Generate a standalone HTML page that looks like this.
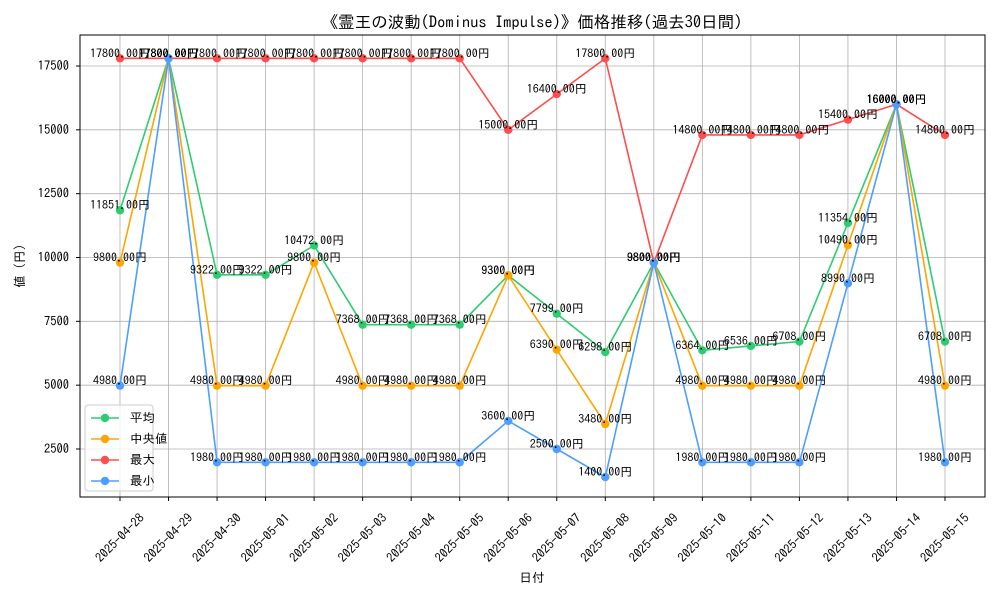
<!DOCTYPE html>
<html><head><meta charset="utf-8">
<style>
body{margin:0;background:#fff;}
svg text{font-family:"IPAGothic","Noto Sans CJK JP","Liberation Sans",sans-serif;}
</style></head>
<body>
<svg id="chart" width="1000" height="600" xmlns="http://www.w3.org/2000/svg">
<rect width="1000" height="600" fill="#fff"/>
<text x="532" y="28" font-size="16.5" text-anchor="middle">《霊王の波動(Dominus Impulse)》価格推移(過去30日間)</text>
<g id="grid"></g>
<rect x="80" y="35" width="905" height="462" fill="none" stroke="#000" stroke-width="1"/>
<g id="axes"></g>
<g id="series"></g>
<g id="labels"></g>
<text x="532" y="582" font-size="12.5" text-anchor="middle">日付</text>
<text x="24" y="266" font-size="12.5" text-anchor="middle" transform="rotate(-90 24 266)">値 (円)</text>
<g id="legend"></g>
</svg>
<script>
const dates=["2025-04-28","2025-04-29","2025-04-30","2025-05-01","2025-05-02","2025-05-03","2025-05-04","2025-05-05","2025-05-06","2025-05-07","2025-05-08","2025-05-09","2025-05-10","2025-05-11","2025-05-12","2025-05-13","2025-05-14","2025-05-15"];
const avgValues=[11851,17800,9322,9322,10472,7368,7368,7368,9300,7799,6298,9800,6364,6536,6708,11354,16000,6708];
const medianValues=[9800,17800,4980,4980,9800,4980,4980,4980,9300,6390,3480,9800,4980,4980,4980,10490,16000,4980];
const maxValues=[17800,17800,17800,17800,17800,17800,17800,17800,15000,16400,17800,9800,14800,14800,14800,15400,16000,14800];
const minValues=[4980,17800,1980,1980,1980,1980,1980,1980,3600,2500,1400,9800,1980,1980,1980,8990,16000,1980];
const yTicks=[2500,5000,7500,10000,12500,15000,17500];
const seriesNames=["平均","中央値","最大","最小"];

const NS="http://www.w3.org/2000/svg";
function mk(tag,attrs,parent){const e=document.createElementNS(NS,tag);for(const k in attrs)e.setAttribute(k,attrs[k]);parent.appendChild(e);return e;}
const X0=120,X1=945;
function xPos(i){return X0+(X1-X0)*i/(dates.length-1);}
function yPos(v){return 449-(v-2500)*(449-66)/15000;}
const grid=document.getElementById('grid'),axes=document.getElementById('axes');
dates.forEach((d,i)=>{
  const x=xPos(i);
  const g=mk('line',{x1:x,x2:x,y1:35,y2:497,stroke:'#b0b0b0','stroke-width':0.8},grid);
  
  
  mk('line',{x1:x,x2:x,y1:497,y2:501,stroke:'#000'},axes);
  const t=mk('text',{x:0,y:4,'font-size':12.5,'text-anchor':'middle',transform:`translate(${x},${538}) rotate(-45)`},axes);
  t.textContent=d;
  
  
});
yTicks.forEach(v=>{
  const y=yPos(v);
  const g=mk('line',{x1:80,x2:985,y1:y,y2:y,stroke:'#b0b0b0','stroke-width':0.8},grid);
  
  
  mk('line',{x1:76,x2:80,y1:y,y2:y,stroke:'#000'},axes);
  const t=mk('text',{x:69,y:y+4,'font-size':12.5,'text-anchor':'end'},axes);
  t.textContent=v;
  
  
});
const allSeries=[avgValues,medianValues,maxValues,minValues];
const colors=["#2ecc71","#ffa500","#ff4d4d","#4d9eff"];
const keys=["avg","median","max","min"];
const sg=document.getElementById('series'),lg=document.getElementById('labels');
allSeries.forEach((vals,s)=>{
  const pts=vals.map((v,i)=>xPos(i)+','+yPos(v)).join(' ');
  const pl=mk('polyline',{points:pts,fill:'none',stroke:colors[s],'stroke-width':1.6},sg);
  
  
  vals.forEach((v,i)=>{
    const c=mk('circle',{cx:xPos(i),cy:yPos(v),r:4.2,fill:colors[s]},sg);
    
    
    const t=mk('text',{x:xPos(i),y:yPos(v)-1,'font-size':12,'text-anchor':'middle'},lg);
    t.textContent=v.toFixed(2)+'円';
    
    
  });
});
const leg=document.getElementById('legend');
const box=mk('rect',{x:85,y:405,width:68,height:86,fill:'#fff','fill-opacity':0.8,stroke:'#ccc',rx:3},leg);


seriesNames.forEach((n,s)=>{
  const y=418+s*21;
  const l=mk('line',{x1:91,x2:119,y1:y,y2:y,stroke:colors[s],'stroke-width':1.6},leg);
  
  
  mk('circle',{cx:105,cy:y,r:4.2,fill:colors[s]},leg);
  const t=mk('text',{x:130,y:y+4,'font-size':12.5},leg);
  t.textContent=n;
  
  
});
</script>
</body></html>
